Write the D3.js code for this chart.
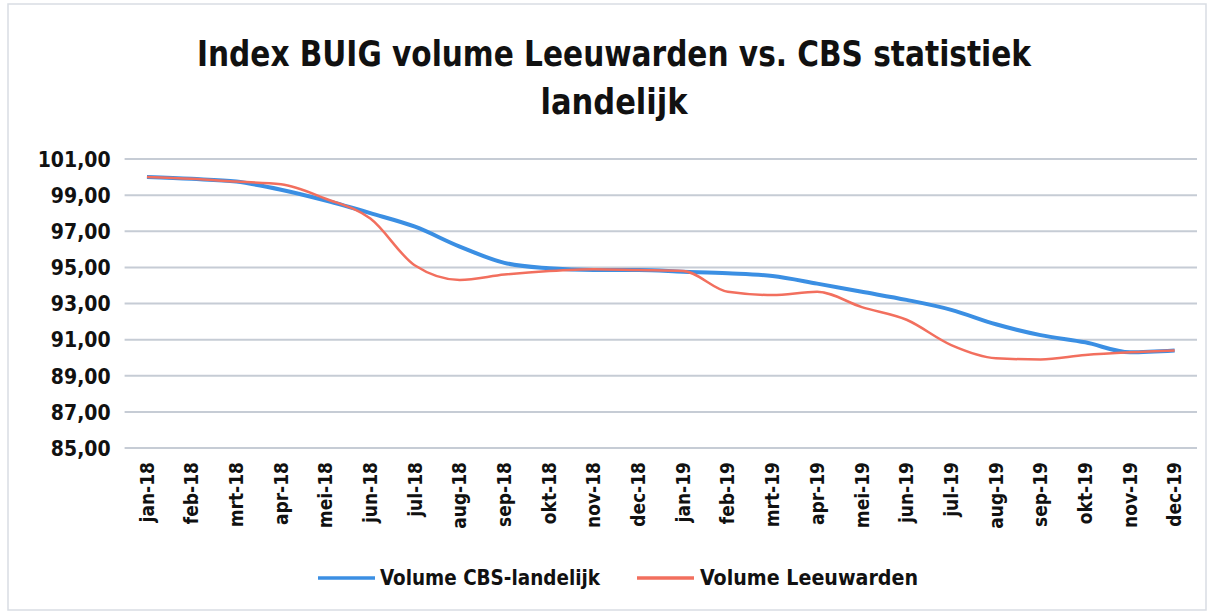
<!DOCTYPE html>
<html><head><meta charset="utf-8">
<script src="https://cdn.jsdelivr.net/npm/d3@7"></script>
<style>
html,body{margin:0;padding:0;background:#fff;}
svg{display:block;}
text{font-family:"Liberation Sans Narrow","DejaVu Sans Condensed","Open Sans",sans-serif;font-weight:bold;fill:#111;}
</style></head><body>
<svg id="c" width="1211" height="614"></svg>
<script>
const months = ["jan-18","feb-18","mrt-18","apr-18","mei-18","jun-18","jul-18","aug-18","sep-18","okt-18","nov-18","dec-18",
"jan-19","feb-19","mrt-19","apr-19","mei-19","jun-19","jul-19","aug-19","sep-19","okt-19","nov-19","dec-19"];
const cbsLandelijk = [100.0,99.9,99.75,99.3,98.7,98.0,97.25,96.15,95.25,94.95,94.85,94.85,
94.76,94.67,94.52,94.1,93.65,93.2,92.65,91.85,91.25,90.85,90.3,90.4];
const leeuwarden = [100.0,99.9,99.75,99.6,98.8,97.7,95.1,94.3,94.6,94.8,94.9,94.85,
94.8,93.65,93.47,93.65,92.8,92.1,90.7,89.97,89.9,90.15,90.3,90.4];
const yTicks = [85,87,89,91,93,95,97,99,101];
const seriesNames = ["Volume CBS-landelijk","Volume Leeuwarden"];
const colors = ["#3b8fe3","#f26f5e"];

const svg = d3.select("#c");
svg.append("rect").attr("x",8).attr("y",4).attr("width",1198).attr("height",606)
  .attr("fill","none").attr("stroke","#d9dde3").attr("stroke-width",1.5);

const pLeft = 124.6, pRight = 1197, pTop = 159, pBottom = 448;
const x = d3.scaleBand().domain(months).range([pLeft,pRight]);
const y = d3.scaleLinear().domain([85,101]).range([pBottom,pTop]);

// title
svg.append("text").attr("x",614).attr("y",66).attr("text-anchor","middle")
  .attr("font-size",35).attr("textLength",834).attr("lengthAdjust","spacingAndGlyphs")
  .text("Index BUIG volume Leeuwarden vs. CBS statistiek");
svg.append("text").attr("x",614).attr("y",114).attr("text-anchor","middle")
  .attr("font-size",35).attr("textLength",147).attr("lengthAdjust","spacingAndGlyphs")
  .text("landelijk");

// gridlines
svg.append("g").selectAll("line").data(yTicks).join("line")
  .attr("x1",pLeft).attr("x2",pRight).attr("y1",d=>y(d)).attr("y2",d=>y(d))
  .attr("stroke","#c6ccd5").attr("stroke-width",2);

// y axis
const fmt = d => d3.format(".2f")(d).replace(".",",");
const ya = svg.append("g").attr("transform",`translate(${pLeft-14},0)`)
  .call(d3.axisLeft(y).tickValues(yTicks).tickFormat(fmt).tickSize(0).tickPadding(0));
ya.select(".domain").remove();
ya.selectAll("text").attr("font-size",21).attr("dy","0.35em")
  .style("font-family",'"Liberation Sans Narrow","DejaVu Sans Condensed",sans-serif').style("font-weight","bold").attr("fill","#111");

// x axis
const xa = svg.append("g").attr("transform",`translate(0,${pBottom})`)
  .call(d3.axisBottom(x).tickSize(0).tickPadding(0));
xa.select(".domain").remove();
xa.selectAll("text").attr("font-size",19).attr("transform","rotate(-90)")
  .attr("text-anchor","end").attr("x",-14).attr("y",0).attr("dy","0.35em")
  .style("font-family",'"Liberation Sans Narrow","DejaVu Sans Condensed",sans-serif').style("font-weight","bold").attr("fill","#111");

// lines
const line = d3.line().x((d,i)=>x(months[i])+x.bandwidth()/2).y(d=>y(d)).curve(d3.curveMonotoneX);
svg.append("path").datum(cbsLandelijk).attr("d",line).attr("fill","none")
  .attr("stroke",colors[0]).attr("stroke-width",4).attr("stroke-linejoin","round");
svg.append("path").datum(leeuwarden).attr("d",line).attr("fill","none")
  .attr("stroke",colors[1]).attr("stroke-width",2.5).attr("stroke-linejoin","round");

// legend
const lg = [{x:318,tx:380,tw:220},{x:637,tx:700,tw:218}];
seriesNames.forEach((n,i)=>{
  svg.append("line").attr("x1",lg[i].x).attr("x2",lg[i].x+57).attr("y1",578).attr("y2",578)
    .attr("stroke",colors[i]).attr("stroke-width",3.5);
  svg.append("text").attr("x",lg[i].tx).attr("y",585).attr("font-size",21)
    .attr("textLength",lg[i].tw).attr("lengthAdjust","spacingAndGlyphs").text(n);
});
</script>
</body></html>
